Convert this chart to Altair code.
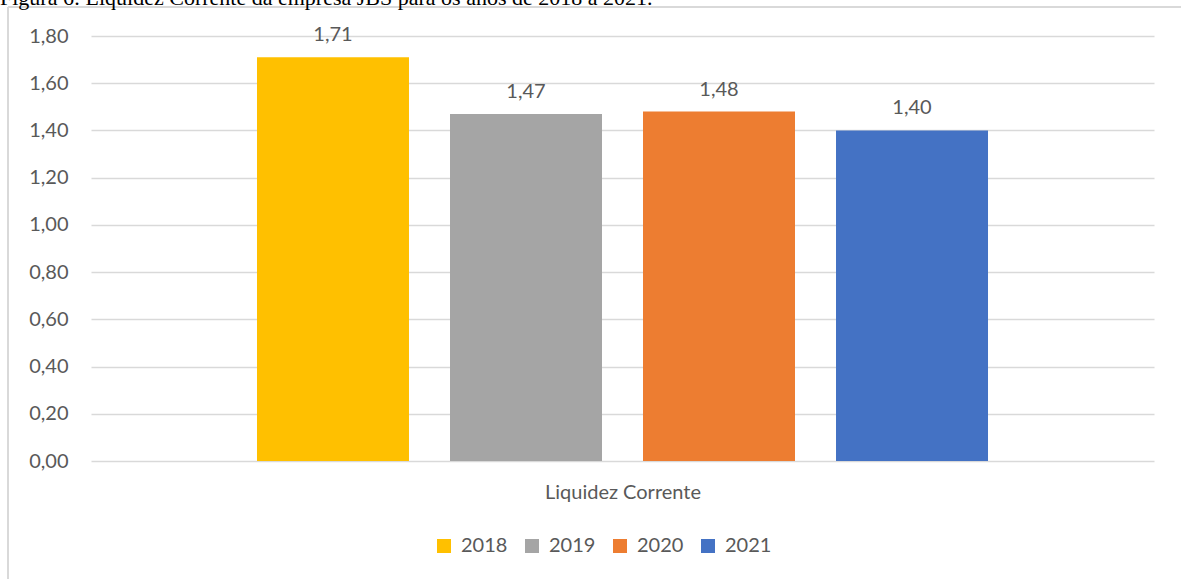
import altair as alt
import pandas as pd

years = ["2018", "2019", "2020", "2021"]
values = [1.71, 1.47, 1.48, 1.40]
colors = ["#FFC000", "#A5A5A5", "#ED7D31", "#4472C4"]
y_ticks = [0.0, 0.2, 0.4, 0.6, 0.8, 1.0, 1.2, 1.4, 1.6, 1.8]
category = "Liquidez Corrente"
fig_title = "Figura 6: Liquidez Corrente da empresa JBS para os anos de 2018 a 2021."

df = pd.DataFrame({"ano": years, "valor": values})

FONT = "Lato"
GREY = "#595959"

x_enc = alt.X(
    "ano:N",
    sort=years,
    scale=alt.Scale(paddingInner=0.2124, paddingOuter=0.86),
    axis=alt.Axis(
        title=category, labels=False, ticks=False, domain=False, grid=False,
        titleFont=FONT, titleFontSize=20, titleFontWeight="normal",
        titleColor=GREY, titlePadding=21,
    ),
)
y_enc = alt.Y(
    "valor:Q",
    scale=alt.Scale(domain=[0, 1.8], nice=False),
    axis=alt.Axis(
        title=None, values=y_ticks, ticks=False, domain=False,
        labelExpr="replace(format(datum.value, '.2f'), '.', ',')",
        labelFont=FONT, labelFontSize=20, labelColor=GREY, labelPadding=23,
        gridColor="#D9D9D9", gridWidth=1.5,
    ),
)

base = alt.Chart(df)

bars = base.mark_bar(size=152).encode(
    x=x_enc,
    y=y_enc,
    color=alt.Color(
        "ano:N",
        sort=years,
        scale=alt.Scale(domain=years, range=colors),
        legend=alt.Legend(
            title=None, orient="none", direction="horizontal",
            legendX=343, legendY=500,
            symbolType="square", symbolSize=196, symbolStrokeWidth=0,
            labelFont=FONT, labelFontSize=20, labelColor=GREY,
            labelOffset=7, columnPadding=14,
        ),
    ),
)

labels = base.mark_text(
    font=FONT, fontSize=20, color=GREY, baseline="alphabetic", dy=-16
).encode(
    x=alt.X("ano:N", sort=years),
    y=alt.Y("valor:Q"),
    text=alt.Text("label:N"),
).transform_calculate(
    label="replace(format(datum.valor, '.2f'), '.', ',')"
)

frame_left = alt.Chart(df).mark_rule(color="#D9D9D9", strokeWidth=1.5).encode(
    x=alt.value(-83), y=alt.value(-29), y2=alt.value(700)
)
frame_top = alt.Chart(df).mark_rule(color="#D9D9D9", strokeWidth=1.5).encode(
    x=alt.value(-83), x2=alt.value(1200), y=alt.value(-29)
)

title_txt = alt.Chart(pd.DataFrame({"t": [fig_title]})).mark_text(
    font="Liberation Serif", fontSize=22, color="#000000",
    align="left", baseline="alphabetic",
).encode(
    x=alt.value(-91), y=alt.value(-31), text="t:N"
)

chart = alt.layer(frame_left, frame_top, bars, labels, title_txt).properties(
    width=1063, height=425,
    background="white",
    autosize=alt.AutoSizeParams(type="none"),
    padding={"left": 91, "top": 36, "right": 27, "bottom": 118},
).configure_view(strokeWidth=0, stroke="transparent")

chart.save("out.html", embed_options={"renderer": "svg", "actions": False})
